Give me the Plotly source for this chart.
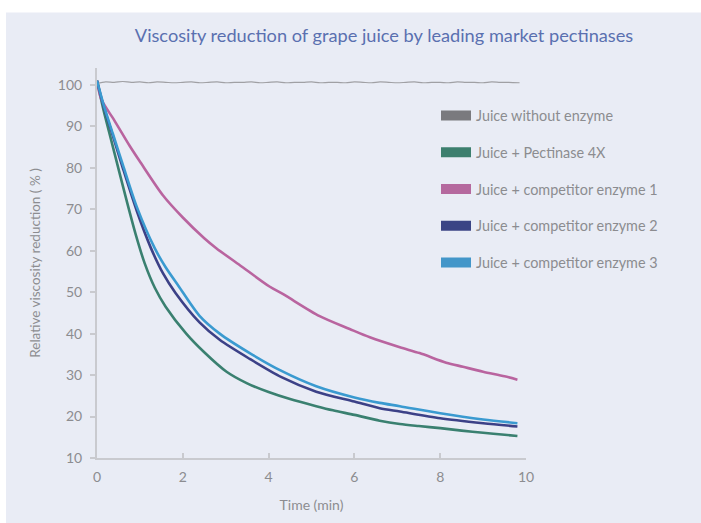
import plotly.graph_objects as go

# ---- data ----
gray_x = [0, 0.2, 0.4, 0.6, 0.8, 1.0, 1.2, 1.4, 1.6, 1.8, 2.0, 2.2, 2.4, 2.6, 2.8, 3.0, 3.2, 3.4, 3.6, 3.8,
          4.0, 4.2, 4.4, 4.6, 4.8, 5.0, 5.2, 5.4, 5.6, 5.8, 6.0, 6.2, 6.4, 6.6, 6.8, 7.0, 7.2, 7.4, 7.6, 7.8,
          8.0, 8.2, 8.4, 8.6, 8.8, 9.0, 9.2, 9.4, 9.6, 9.85]
gray_y = [100.3, 100.7, 100.6, 100.8, 100.6, 100.7, 100.5, 100.7, 100.6, 100.5, 100.6, 100.7, 100.5, 100.6, 100.7,
          100.5, 100.6, 100.6, 100.7, 100.5, 100.6, 100.7, 100.5, 100.6, 100.6, 100.7, 100.5, 100.6, 100.6, 100.5,
          100.7, 100.6, 100.5, 100.7, 100.6, 100.5, 100.6, 100.7, 100.5, 100.6, 100.6, 100.5, 100.7, 100.6, 100.6,
          100.5, 100.7, 100.6, 100.6, 100.5]

green_x = [0, 0.15, 0.335, 0.47, 0.685, 0.9, 1.11, 1.35, 1.6, 2.08, 2.5, 3.02, 3.5, 4.0, 4.5, 5.11, 5.5,
           6.0, 6.59, 7.06, 7.5, 8.0, 8.5, 9.0, 9.5, 9.8]
green_y = [101, 94.0, 86.5, 81.0, 72.3, 64.0, 57.0, 51.0, 46.5, 40.0, 35.5, 30.8, 28.0, 25.9, 24.2, 22.5, 21.5,
           20.4, 19.0, 18.2, 17.7, 17.2, 16.6, 16.1, 15.6, 15.3]

pink_x = [0, 0.1, 0.4, 0.76, 1.0, 1.54, 2.0, 2.5, 2.78, 3.33, 4.03, 4.34, 5.19, 5.89, 6.36, 7.06, 7.52, 8.14,
          8.53, 9.0, 9.5, 9.8]
pink_y = [101, 96.5, 91.5, 85.3, 81.5, 73.3, 68.0, 63.0, 60.6, 56.5, 51.3, 49.5, 44.2, 41.1, 39.1, 36.7, 35.3,
          33.0, 32.0, 30.8, 29.7, 28.9]

dark_x = [0, 0.15, 0.37, 0.6, 0.93, 1.25, 1.54, 1.83, 2.39, 2.86, 3.56, 4.3, 5.11, 6.0, 6.59, 7.06, 8.0, 9.0, 9.8]
dark_y = [101, 95.0, 87.7, 80.0, 69.5, 60.8, 54.5, 49.8, 42.7, 38.5, 33.9, 29.5, 26.0, 23.6, 22.0, 21.2, 19.6,
          18.4, 17.6]

light_x = [0, 0.15, 0.37, 0.6, 0.93, 1.345, 1.6, 1.9, 2.39, 2.86, 3.56, 4.3, 5.11, 6.0, 6.59, 7.06, 8.0, 9.0, 9.8]
light_y = [101, 95.3, 88.2, 80.8, 70.5, 60.6, 56.0, 51.5, 44.3, 40.0, 35.3, 31.0, 27.3, 24.6, 23.3, 22.5, 20.8,
           19.3, 18.4]

series_names = ["Juice without enzyme", "Juice + Pectinase 4X", "Juice + competitor enzyme 1",
                "Juice + competitor enzyme 2", "Juice + competitor enzyme 3"]
line_colors = ["#a0a0a4", "#3a8070", "#b9649f", "#3c4187", "#3a9ad0"]
legend_colors = ["#7a7a7e", "#3d7f6e", "#b5699e", "#3b4585", "#4396c9"]
line_widths = [1.2, 2.6, 2.6, 2.6, 2.6]

x_ticks = [0, 2, 4, 6, 8, 10]
y_ticks = [10, 20, 30, 40, 50, 60, 70, 80, 90, 100]

BG = "#e9ecf5"
TXT = "#8c8c90"
AX = "#c9cacf"
FONT = "Lato"

fig = go.Figure()
data = [(gray_x, gray_y), (green_x, green_y), (pink_x, pink_y), (dark_x, dark_y), (light_x, light_y)]
for (xs, ys), name, col, w in zip(data, series_names, line_colors, line_widths):
    fig.add_trace(go.Scatter(x=xs, y=ys, mode="lines", name=name, showlegend=False,
                             line=dict(color=col, width=w, shape="spline", smoothing=0.8),
                             hoverinfo="skip"))
for i, (name, col) in enumerate(zip(series_names, legend_colors)):
    fig.add_trace(go.Scatter(x=[None], y=[None], mode="lines", name=name, legendgroup=f"g{i}",
                             line=dict(color=col, width=12)))

W, H = 701, 523
ml, mr, mt, mb = 97, 175, 68, 61
pw, ph = W - ml - mr, H - mt - mb

fig.add_shape(type="rect", xref="paper", yref="paper",
              x0=(6 - ml) / pw, x1=(W + 5 - ml) / pw,
              y0=-(mb + 5) / ph, y1=(H - mb - 12) / ph,
              fillcolor=BG, line=dict(width=0), layer="below")

fig.update_layout(
    width=W, height=H,
    margin=dict(l=ml, r=mr, t=mt, b=mb),
    paper_bgcolor="white", plot_bgcolor="rgba(0,0,0,0)",
    font=dict(family=FONT, color=TXT, size=14),
    title=dict(text="Viscosity reduction of grape juice by leading market pectinases",
               x=384 / W, xanchor="center", xref="container",
               y=1 - 36 / H, yanchor="middle", yref="container",
               font=dict(family=FONT, size=18.2, color="#5a70b0")),
    legend=dict(x=(436 - ml) / pw, xanchor="left", y=(H - mb - 100) / ph, yanchor="top",
                bgcolor="rgba(0,0,0,0)", font=dict(size=14.4, color=TXT, family=FONT),
                tracegroupgap=15, itemwidth=30),
    xaxis=dict(range=[0, 10], tickvals=x_ticks, showgrid=False, zeroline=False,
               showline=True, linecolor=AX, linewidth=2,
               ticks="inside", ticklen=5, tickcolor=AX, tickwidth=1.5,
               ticklabelstandoff=5,
               title=dict(text="Time (min)", standoff=16, font=dict(size=14, color=TXT))),
    yaxis=dict(range=[10, 104.06], tickvals=y_ticks, showgrid=False, zeroline=False,
               showline=True, linecolor=AX, linewidth=2,
               ticks="outside", ticklen=5, tickcolor=AX, tickwidth=1.5,
               ticklabelstandoff=5,
               title=dict(text="Relative viscosity reduction ( % )", standoff=14,
                          font=dict(size=13.5, color=TXT))),
)

fig.write_html("out.html", config={"displayModeBar": False},
               post_script="document.body.style.margin='0';")
